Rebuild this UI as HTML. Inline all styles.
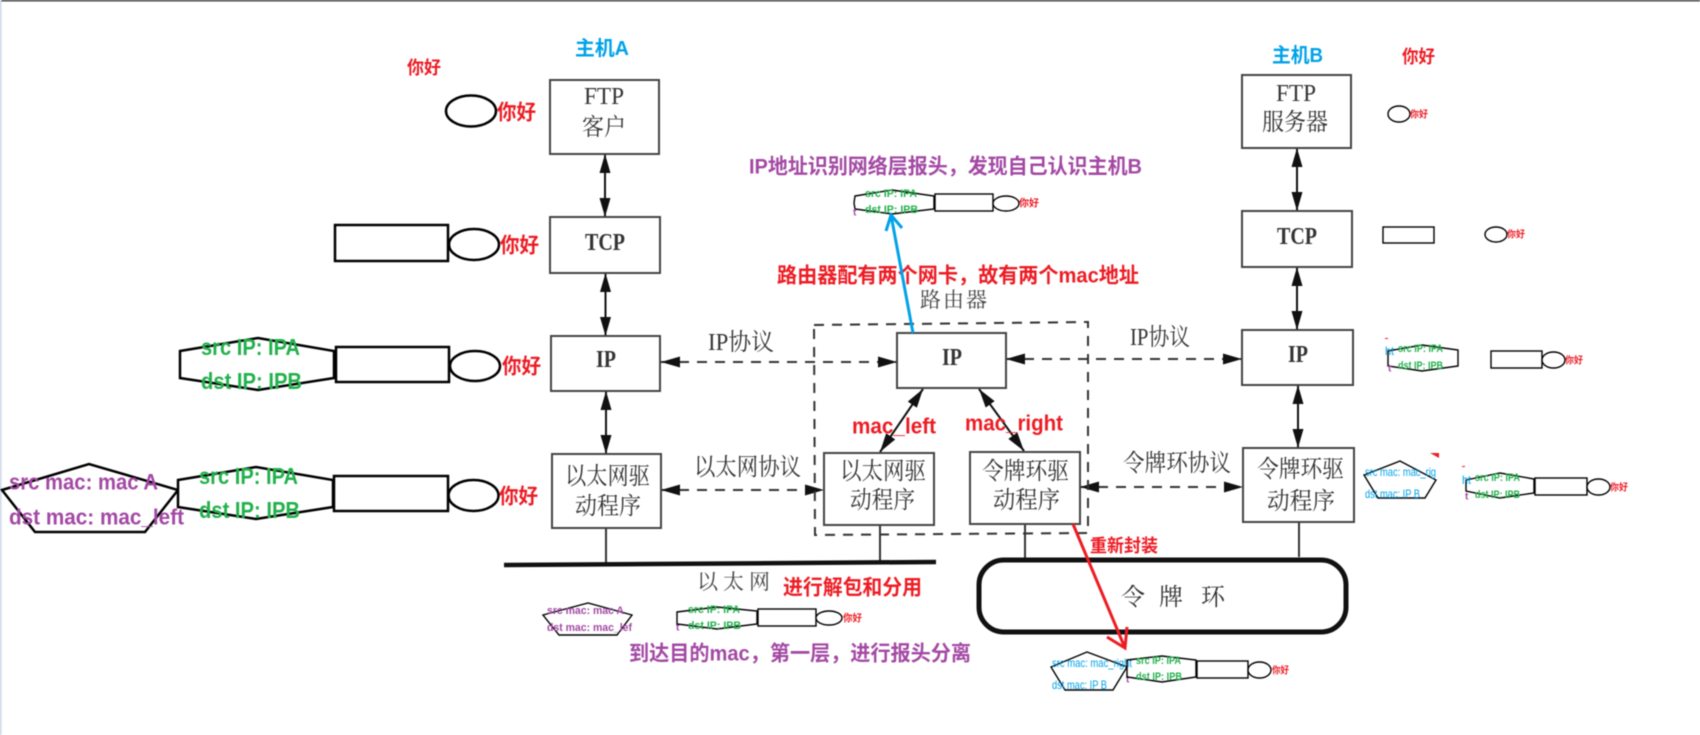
<!DOCTYPE html>
<html lang="zh"><head><meta charset="utf-8"><title>diagram</title>
<style>
html,body{margin:0;padding:0;background:#fff;width:1700px;height:735px;overflow:hidden}
svg{display:block;position:absolute;left:0;top:0;filter:blur(.5px)}
text{dominant-baseline:central;font-family:"Liberation Sans","Noto Sans CJK SC",sans-serif;font-weight:700}
.s{font-family:"Liberation Serif","Noto Serif CJK SC",serif;font-weight:400;fill:#333;font-size:24px}
.r{fill:#ed1c24}.g{fill:#22b14c}.p{fill:#a349a4}.b{fill:#00a2e8}
.box{fill:#fff;stroke:#444;stroke-width:2}
.k{fill:#fff;stroke:#000;stroke-width:2.500}
.k2{fill:#fff;stroke:#000;stroke-width:1.400}
.ln{stroke:#333;stroke-width:2;fill:none}
.arr{stroke:#111;stroke-width:2;fill:none;marker-start:url(#a);marker-end:url(#a)}
.d{stroke:#333;stroke-width:2;stroke-dasharray:10 8;fill:none;marker-start:url(#a);marker-end:url(#a)}
</style></head><body>
<svg width="1700" height="735" viewBox="0 0 1700 735" xmlns="http://www.w3.org/2000/svg">
<defs><marker id="a" viewBox="0 0 19 11" refX="19" refY="5.5" markerWidth="19" markerHeight="11" markerUnits="userSpaceOnUse" orient="auto-start-reverse"><path d="M0 0L19 5.5L0 11z" fill="#111"/></marker></defs>
<rect width="1700" height="735" fill="#fff"/>
<rect x="0" y="0" width="1700" height="1.5" fill="#444"/>
<rect x="0" y="0" width="1.5" height="735" fill="#c8d4e8"/>

<!-- connectors -->
<path class="arr" d="M605 154V217"/><path class="arr" d="M605.500 273V336"/><path class="arr" d="M606 391V454"/>
<path class="arr" d="M1297 148V211"/><path class="arr" d="M1297 267V330"/><path class="arr" d="M1298 385V448"/>
<path class="arr" d="M923 389L880 452"/><path class="arr" d="M979 389L1024 451"/>
<path class="d" d="M661 362H897"/><path class="d" d="M1006 359H1242"/>
<path class="d" d="M661 490H824"/><path class="d" d="M1080 487H1243"/>
<path class="ln" d="M606 528V564M880 525V562M1025 524V560M1299 522V557"/>
<path d="M504 565L936 562" stroke="#111" stroke-width="4.500" fill="none"/>
<rect x="979" y="560" width="367" height="72" rx="25" fill="#fff" stroke="#111" stroke-width="5"/>
<path d="M814 325L1088 322V533L815 535Z" fill="none" stroke="#333" stroke-width="2" stroke-dasharray="10 8"/>

<!-- boxes -->
<rect class="box" x="550" y="80" width="109" height="74"/>
<rect class="box" x="550" y="217" width="110" height="56"/>
<rect class="box" x="551" y="336" width="109" height="55"/>
<rect class="box" x="552" y="454" width="109" height="74"/>
<rect class="box" x="897" y="333" width="109" height="55"/>
<rect class="box" x="824" y="453" width="110" height="72"/>
<rect class="box" x="970" y="452" width="110" height="72"/>
<rect class="box" x="1242" y="75" width="109" height="73"/>
<rect class="box" x="1242" y="211" width="110" height="56"/>
<rect class="box" x="1242" y="330" width="111" height="55"/>
<rect class="box" x="1243" y="448" width="111" height="74"/>

<!-- box text -->
<text class="s" x="584" y="97" textLength="40" lengthAdjust="spacingAndGlyphs">FTP</text>
<text class="s" x="582" y="128" textLength="44" lengthAdjust="spacingAndGlyphs">客户</text>
<text class="s" x="585" y="243" textLength="40" lengthAdjust="spacingAndGlyphs" style="font-weight:700">TCP</text>
<text class="s" x="596" y="360" textLength="20" lengthAdjust="spacingAndGlyphs" style="font-weight:700">IP</text>
<text class="s" x="565" y="477" textLength="85" lengthAdjust="spacingAndGlyphs">以太网驱</text>
<text class="s" x="575" y="507" textLength="66" lengthAdjust="spacingAndGlyphs">动程序</text>
<text class="s" x="942" y="358" textLength="20" lengthAdjust="spacingAndGlyphs" style="font-weight:700">IP</text>
<text class="s" x="840" y="472" textLength="86" lengthAdjust="spacingAndGlyphs">以太网驱</text>
<text class="s" x="850" y="501" textLength="65" lengthAdjust="spacingAndGlyphs">动程序</text>
<text class="s" x="982" y="472" textLength="87" lengthAdjust="spacingAndGlyphs">令牌环驱</text>
<text class="s" x="993" y="501" textLength="67" lengthAdjust="spacingAndGlyphs">动程序</text>
<text class="s" x="1276" y="94" textLength="40" lengthAdjust="spacingAndGlyphs">FTP</text>
<text class="s" x="1262" y="123" textLength="66" lengthAdjust="spacingAndGlyphs">服务器</text>
<text class="s" x="1277" y="237" textLength="40" lengthAdjust="spacingAndGlyphs" style="font-weight:700">TCP</text>
<text class="s" x="1288" y="355" textLength="20" lengthAdjust="spacingAndGlyphs" style="font-weight:700">IP</text>
<text class="s" x="1257" y="470" textLength="87" lengthAdjust="spacingAndGlyphs">令牌环驱</text>
<text class="s" x="1267" y="502" textLength="68" lengthAdjust="spacingAndGlyphs">动程序</text>

<!-- protocol labels -->
<text class="s" x="708" y="343" textLength="66" lengthAdjust="spacingAndGlyphs">IP协议</text>
<text class="s" x="1130" y="338" textLength="60" lengthAdjust="spacingAndGlyphs">IP协议</text>
<text class="s" x="694" y="468" textLength="107" lengthAdjust="spacingAndGlyphs">以太网协议</text>
<text class="s" x="1123" y="464" textLength="108" lengthAdjust="spacingAndGlyphs">令牌环协议</text>
<text class="s" x="920" y="300" textLength="67" style="font-size:21px;fill:#444">路由器</text>
<text class="s" x="697" y="582" textLength="73" style="font-size:21px;fill:#444">以太网</text>
<text class="s" x="1121" y="598">令</text><text class="s" x="1159" y="598">牌</text><text class="s" x="1201" y="598">环</text>

<!-- titles -->
<text class="b" x="575" y="49" font-size="20" textLength="54" lengthAdjust="spacingAndGlyphs">主机A</text>
<text class="b" x="1272" y="56" font-size="20" textLength="51" lengthAdjust="spacingAndGlyphs">主机B</text>
<text class="r" x="407" y="68" font-size="18" textLength="34" lengthAdjust="spacingAndGlyphs">你好</text>
<text class="r" x="1402" y="57" font-size="18" textLength="33" lengthAdjust="spacingAndGlyphs">你好</text>

<!-- host A packets -->
<ellipse class="k" cx="471" cy="111" rx="25" ry="15.500"/>
<text class="r" x="497" y="113" font-size="21" textLength="39" lengthAdjust="spacingAndGlyphs">你好</text>
<rect class="k" x="335" y="225" width="113" height="36"/>
<ellipse class="k" cx="474" cy="244.500" rx="25" ry="15.500"/>
<text class="r" x="500" y="246" font-size="21" textLength="39" lengthAdjust="spacingAndGlyphs">你好</text>

<path class="k" d="M180 351L258 338L334 351V378L258 390L180 378Z"/>
<rect class="k" x="336" y="347" width="113" height="35"/>
<ellipse class="k" cx="475" cy="366" rx="25" ry="15"/>
<text class="r" x="502" y="367" font-size="21" textLength="39" lengthAdjust="spacingAndGlyphs">你好</text>
<text class="g" x="201" y="347" font-size="23" textLength="99" lengthAdjust="spacingAndGlyphs">src IP: IPA</text>
<text class="g" x="201" y="381" font-size="23" textLength="101" lengthAdjust="spacingAndGlyphs">dst IP: IPB</text>

<path class="k" d="M2 490L89 464L178 490L145 532H35Z"/>
<path class="k" d="M178 480L256 467L333 480V507L256 519L178 507Z"/>
<rect class="k" x="334" y="476" width="114" height="35"/>
<ellipse class="k" cx="473.500" cy="495.500" rx="25" ry="15.500"/>
<text class="r" x="499" y="497" font-size="21" textLength="39" lengthAdjust="spacingAndGlyphs">你好</text>
<text class="g" x="199" y="476" font-size="23" textLength="99" lengthAdjust="spacingAndGlyphs">src IP: IPA</text>
<text class="g" x="199" y="510" font-size="23" textLength="101" lengthAdjust="spacingAndGlyphs">dst IP: IPB</text>
<text class="p" x="9" y="482" font-size="22" textLength="149" lengthAdjust="spacingAndGlyphs">src mac: mac A</text>
<text class="p" x="9" y="517" font-size="22" textLength="175" lengthAdjust="spacingAndGlyphs">dst mac: mac_left</text>

<!-- ethernet packet -->
<path class="k2" d="M543 615L588 603L632 615L617 635H559Z"/>
<text class="p" x="547" y="611" font-size="11" textLength="77" lengthAdjust="spacingAndGlyphs">src mac: mac A</text>
<text class="p" x="547" y="628" font-size="11" textLength="85" lengthAdjust="spacingAndGlyphs">dst mac: mac_lef</text>
<text class="p" x="676" y="628" font-size="10">t</text>
<path class="k2" d="M677 612L717 607L757 611V624L717 629L677 624Z"/>
<rect class="k2" x="758" y="609" width="58" height="17"/>
<ellipse class="k2" cx="829" cy="618" rx="13" ry="7"/>
<text class="r" x="843" y="619" font-size="10" textLength="19" lengthAdjust="spacingAndGlyphs">你好</text>
<text class="g" x="688" y="610" font-size="11" textLength="52" lengthAdjust="spacingAndGlyphs">src IP: IPA</text>
<text class="g" x="688" y="626" font-size="11" textLength="53" lengthAdjust="spacingAndGlyphs">dst IP: IPB</text>

<!-- router packet -->
<path class="k2" d="M855 196L892 190L934 196V209L892 214L855 209L854 203Z"/>
<rect class="k2" x="935" y="194" width="58" height="17"/>
<ellipse class="k2" cx="1006" cy="203.500" rx="13" ry="7.500"/>
<text class="r" x="1019" y="204" font-size="10" textLength="20" lengthAdjust="spacingAndGlyphs">你好</text>
<text class="g" x="865" y="194" font-size="11" textLength="52" lengthAdjust="spacingAndGlyphs">src IP: IPA</text>
<text class="g" x="865" y="210" font-size="11" textLength="53" lengthAdjust="spacingAndGlyphs">dst IP: IPB</text>
<text class="p" x="853" y="213" font-size="10">t</text>

<!-- callouts -->
<text class="p" x="749" y="167" font-size="21" textLength="393" lengthAdjust="spacingAndGlyphs">IP地址识别网络层报头，发现自己认识主机B</text>
<text class="r" x="777" y="276" font-size="21" textLength="362" lengthAdjust="spacingAndGlyphs">路由器配有两个网卡，故有两个mac地址</text>
<text class="r" x="852" y="426" font-size="22" textLength="84" lengthAdjust="spacingAndGlyphs">mac_left</text>
<text class="r" x="965" y="423" font-size="22" textLength="98" lengthAdjust="spacingAndGlyphs">mac_right</text>
<text class="r" x="783" y="588" font-size="21" textLength="139" lengthAdjust="spacingAndGlyphs">进行解包和分用</text>
<text class="p" x="629" y="654" font-size="21" textLength="342" lengthAdjust="spacingAndGlyphs">到达目的mac，第一层，进行报头分离</text>
<text class="r" x="1090" y="546" font-size="18" textLength="68" lengthAdjust="spacingAndGlyphs">重新封装</text>

<path d="M913 333L891 215M886 231L891 215L902 228" stroke="#00a2e8" stroke-width="3" fill="none"/>
<path d="M1073 524L1125 648M1107 637L1125 648L1127 627" stroke="#ed1c24" stroke-width="3" fill="none"/>

<!-- token ring packet -->
<path class="k2" d="M1051 667L1087 652L1127 667L1113 690H1065Z"/>
<text class="b" x="1052" y="663" font-size="12" textLength="80" lengthAdjust="spacingAndGlyphs" style="font-weight:400">src mac: mac_right</text>
<text class="b" x="1052" y="685" font-size="12" textLength="55" lengthAdjust="spacingAndGlyphs" style="font-weight:400">dst mac: IP B</text>
<text class="p" x="1126" y="680" font-size="10">t</text>
<path class="k2" d="M1127 660L1162 656L1196 660V677L1162 682L1127 677Z" style="fill:none"/>
<rect class="k2" x="1197" y="661" width="51" height="17"/>
<ellipse class="k2" cx="1259.500" cy="670" rx="11.500" ry="8"/>
<text class="r" x="1272" y="671" font-size="9.500" textLength="17" lengthAdjust="spacingAndGlyphs">你好</text>
<text class="g" x="1136" y="661" font-size="11" textLength="45" lengthAdjust="spacingAndGlyphs">src IP: IPA</text>
<text class="g" x="1136" y="677" font-size="11" textLength="46" lengthAdjust="spacingAndGlyphs">dst IP: IPB</text>

<!-- host B packets -->
<ellipse class="k2" cx="1399" cy="114" rx="11" ry="8"/>
<text class="r" x="1410" y="115" font-size="9.500" textLength="18" lengthAdjust="spacingAndGlyphs">你好</text>
<rect class="k2" x="1383" y="227" width="51" height="16"/>
<ellipse class="k2" cx="1496" cy="234.500" rx="11" ry="7.500"/>
<text class="r" x="1507" y="235" font-size="9.500" textLength="18" lengthAdjust="spacingAndGlyphs">你好</text>

<path class="k2" d="M1388 351L1422 345L1458 350V366L1422 371L1388 366Z"/>
<rect class="k2" x="1491" y="351" width="51" height="17"/>
<ellipse class="k2" cx="1553.500" cy="360" rx="11.500" ry="8"/>
<text class="r" x="1565" y="361" font-size="9.500" textLength="18" lengthAdjust="spacingAndGlyphs">你好</text>
<text class="g" x="1398" y="349" font-size="11" textLength="45" lengthAdjust="spacingAndGlyphs">src IP: IPA</text>
<text class="g" x="1398" y="366" font-size="11" textLength="45" lengthAdjust="spacingAndGlyphs">dst IP: IPB</text>
<text class="b" x="1385" y="351" font-size="12" textLength="9" lengthAdjust="spacingAndGlyphs" style="font-weight:400">ht</text>
<text class="p" x="1388" y="369" font-size="10">t</text>
<rect x="1385" y="338" width="3" height="1" fill="#ed1c24"/>

<path class="k2" d="M1364 475L1400 461L1436 480L1425 498H1378Z"/>
<text class="b" x="1365" y="472" font-size="12" textLength="71" lengthAdjust="spacingAndGlyphs" style="font-weight:400">src mac: mac_rig</text>
<text class="b" x="1365" y="494" font-size="12" textLength="55" lengthAdjust="spacingAndGlyphs" style="font-weight:400">dst mac: IP B</text>
<path d="M1430 453L1439 453V458Z" fill="#ed1c24"/>
<rect x="1462" y="466" width="3" height="1" fill="#ed1c24"/>
<path class="k2" d="M1466 480L1500 473L1534 479V493L1500 498L1466 491Z"/>
<rect class="k2" x="1535" y="478" width="52" height="17"/>
<ellipse class="k2" cx="1598.500" cy="487" rx="11.500" ry="8"/>
<text class="r" x="1610" y="488" font-size="9.500" textLength="18" lengthAdjust="spacingAndGlyphs">你好</text>
<text class="g" x="1475" y="478" font-size="11" textLength="45" lengthAdjust="spacingAndGlyphs">src IP: IPA</text>
<text class="g" x="1475" y="495" font-size="11" textLength="45" lengthAdjust="spacingAndGlyphs">dst IP: IPB</text>
<text class="b" x="1462" y="480" font-size="12" textLength="9" lengthAdjust="spacingAndGlyphs" style="font-weight:400">ht</text>
<text class="p" x="1465" y="497" font-size="10">t</text>
</svg>
</body></html>
